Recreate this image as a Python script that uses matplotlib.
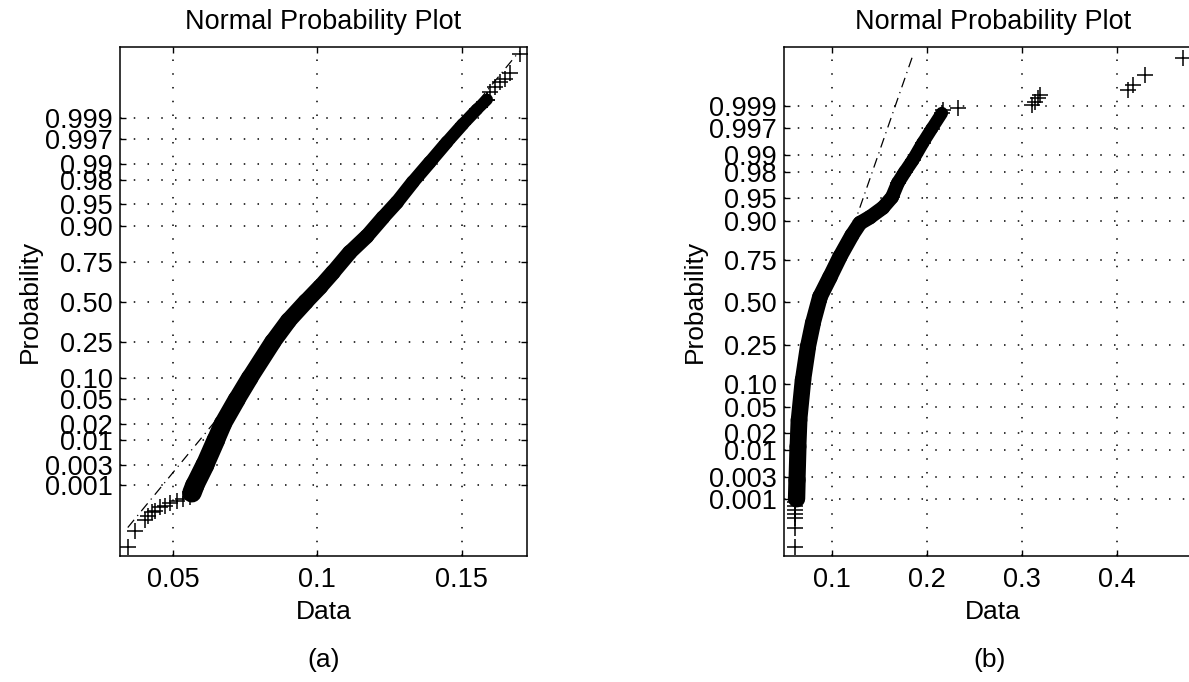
from statistics import NormalDist
import numpy as np
import matplotlib
matplotlib.use("Agg")
import matplotlib.pyplot as plt

# y tick probabilities (normal probability scale)
prob_ticks = [0.001, 0.003, 0.01, 0.02, 0.05, 0.10, 0.25, 0.50,
              0.75, 0.90, 0.95, 0.98, 0.99, 0.997, 0.999]
prob_labels = ["0.001", "0.003", "0.01", "0.02", "0.05", "0.10", "0.25", "0.50",
               "0.75", "0.90", "0.95", "0.98", "0.99", "0.997", "0.999"]

# ---- panel (a) ----
a_lo_x = [0.0344, 0.0369, 0.0403, 0.0413, 0.0427, 0.0438, 0.0455, 0.0472,
          0.0490, 0.0514, 0.0535, 0.0559, 0.0566]
a_lo_p = [1.8e-5, 5.7e-5, 1.2e-4, 1.5e-4, 2.0e-4, 2.2e-4, 2.7e-4, 3.0e-4,
          3.5e-4, 3.9e-4, 4.5e-4, 5.0e-4, 6.0e-4]
a_band_x = [0.0566, 0.0576, 0.0611, 0.0649, 0.0673, 0.0721, 0.0766, 0.0846,
            0.0900, 0.0960, 0.1010, 0.1054, 0.1112, 0.1171,
            0.1227, 0.1275, 0.1330, 0.1389, 0.1448, 0.1503, 0.1552, 0.1587]
a_band_p = [6.5e-4, 0.001, 0.003, 0.01, 0.02, 0.05, 0.10, 0.25,
            0.375, 0.50, 0.60, 0.69, 0.797, 0.865,
            0.922, 0.953, 0.978, 0.9906, 0.9964, 0.9986, 0.9994, 0.99967]
a_hi_x = [0.1587, 0.1597, 0.1614, 0.1631, 0.1649, 0.1666, 0.1700]
a_hi_p = [0.99967, 0.99979, 0.99985, 0.99989, 0.99991, 0.99994, 0.999985]
a_ref_x = [0.0344, 0.1700]
a_ref_p = [7.2e-5, 0.999988]

# ---- panel (b) ----
b_lo_x = [0.0611, 0.0611, 0.0611, 0.0611, 0.0611, 0.0611, 0.0611]
b_lo_p = [6.1e-5, 1.9e-4, 3.4e-4, 4.4e-4, 5.5e-4, 6.9e-4, 8.5e-4]
b_band_x = [0.0627, 0.0632, 0.0642, 0.0653, 0.0695, 0.0747, 0.0800, 0.0874,
            0.0979, 0.1084, 0.1211, 0.1295, 0.1400, 0.1537, 0.1632, 0.1695,
            0.1768, 0.1853, 0.1958, 0.2053, 0.2158]
b_band_p = [0.001, 0.0026, 0.0116, 0.032, 0.111, 0.242, 0.374, 0.535,
            0.655, 0.764, 0.855, 0.894, 0.910, 0.932, 0.951, 0.970,
            0.980, 0.9875, 0.9940, 0.9969, 0.99856]
b_hi_x = [0.2168, 0.2326, 0.3105, 0.3137, 0.3168, 0.3189, 0.4116, 0.4168,
          0.4295, 0.4695]
b_hi_p = [0.99878, 0.99889, 0.99906, 0.99918, 0.99936, 0.99944, 0.99958,
          0.99969, 0.99983, 0.99994]
b_ref_x = [0.1220, 0.1853]
b_ref_p = [0.880, 0.99995]

nd = NormalDist()


def q(ps):
    return [nd.inv_cdf(p) for p in ps]


plt.rcParams["font.family"] = ["Liberation Sans", "DejaVu Sans"]
fs = 19.5

fig = plt.figure(figsize=(11.89, 6.82), dpi=100)
ax_a = fig.add_axes([0.1009, 0.1848, 0.3423, 0.7463])
ax_b = fig.add_axes([0.6594, 0.1848, 0.3516, 0.7463])


def draw(ax, lo_x, lo_p, band_x, band_p, hi_x, hi_p, ref_x, ref_p,
         xlim, ylim, xticks, xlabels, w0, w1):
    ax.plot(ref_x, q(ref_p), color="black", lw=0.9, ls=(0, (8, 4, 1, 4)), zorder=2)
    # thick band of overlapping '+' markers, thinner towards the top
    bz = q(band_p)
    widths = np.linspace(w0, w1, len(band_x) - 1)
    for i, w in enumerate(widths):
        ax.plot(band_x[i:i + 2], bz[i:i + 2], color="black", lw=w,
                solid_capstyle="round", zorder=3)
    for xs, ps in ((lo_x, lo_p), (band_x, band_p), (hi_x, hi_p)):
        ax.plot(xs, q(ps), ls="none", marker="+", ms=12, mew=1.1, color="black", zorder=3)
    ax.set_xlim(*xlim)
    ax.set_ylim(*ylim)
    ax.set_xticks(xticks)
    ax.set_xticklabels(xlabels)
    ax.set_yticks(q(prob_ticks))
    ax.set_yticklabels(prob_labels)
    ax.grid(True, color="black", lw=1.1, ls=(0, (1, 8)))
    ax.tick_params(direction="in", length=4, width=1, labelsize=fs,
                   top=True, right=True, pad=5)
    ax.tick_params(axis="x", pad=8)
    for s in ax.spines.values():
        s.set_linewidth(1.1)
    ax.set_xlabel("Data", fontsize=19, labelpad=5)
    ax.set_ylabel("Probability", fontsize=19, labelpad=2)
    ax.set_title("Normal Probability Plot", fontsize=fs, pad=13)


draw(ax_a, a_lo_x, a_lo_p, a_band_x, a_band_p, a_hi_x, a_hi_p, a_ref_x, a_ref_p,
     (0.0317, 0.1725), (-4.28, 4.29), [0.05, 0.1, 0.15], ["0.05", "0.1", "0.15"],
     14, 8.5)
draw(ax_b, b_lo_x, b_lo_p, b_band_x, b_band_p, b_hi_x, b_hi_p, b_ref_x, b_ref_p,
     (0.0495, 0.49), (-3.99, 4.02), [0.1, 0.2, 0.3, 0.4], ["0.1", "0.2", "0.3", "0.4"],
     12.5, 9)

fig.text(324 / 1189, 1 - 660 / 682, "(a)", fontsize=19, ha="center", va="center")
fig.text(990 / 1189, 1 - 660 / 682, "(b)", fontsize=19, ha="center", va="center")

fig.savefig("out.png", dpi=100)
